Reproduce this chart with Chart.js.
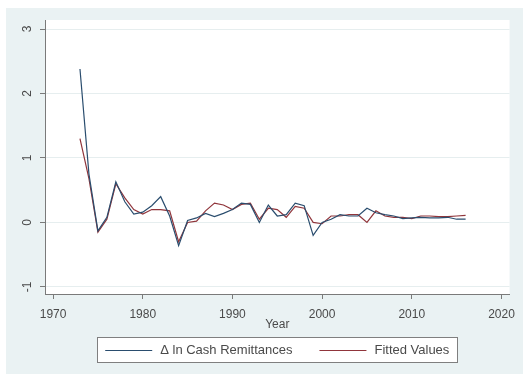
<!DOCTYPE html>
<html>
<head>
<meta charset="utf-8">
<script src="https://cdn.jsdelivr.net/npm/chart.js@4.4.1/dist/chart.umd.min.js"></script>
<style>
html,body{margin:0;padding:0;background:#ffffff;}
#wrap{width:523px;height:374px;}
</style>
</head>
<body>
<div id="wrap"><canvas id="c" width="523" height="374"></canvas></div>
<script>
const years = [1973,1974,1975,1976,1977,1978,1979,1980,1981,1982,1983,1984,1985,1986,1987,1988,1989,1990,1991,1992,1993,1994,1995,1996,1997,1998,1999,2000,2001,2002,2003,2004,2005,2006,2007,2008,2009,2010,2011,2012,2013,2014,2015,2016];
const dlnCashRemittances = [2.38,0.75,-0.13,0.08,0.63,0.32,0.13,0.16,0.26,0.40,0.10,-0.36,0.03,0.07,0.14,0.09,0.14,0.20,0.30,0.28,0.00,0.27,0.10,0.12,0.30,0.26,-0.20,0.00,0.05,0.12,0.10,0.10,0.22,0.15,0.12,0.10,0.06,0.07,0.08,0.07,0.07,0.08,0.05,0.05];
const fittedValues = [1.30,0.68,-0.15,0.05,0.60,0.38,0.20,0.13,0.20,0.20,0.18,-0.30,0.00,0.02,0.18,0.30,0.27,0.20,0.28,0.30,0.05,0.22,0.20,0.08,0.25,0.22,0.00,-0.02,0.10,0.10,0.12,0.12,0.00,0.18,0.10,0.08,0.08,0.06,0.10,0.10,0.09,0.09,0.10,0.11];
const seriesNames = ["\u0394 ln Cash Remittances","Fitted Values"];
const xTicks = [1970,1980,1990,2000,2010,2020];
const yTicks = [-1,0,1,2,3];
const xTitle = "Year";

const FONT = "'Liberation Sans', Arial, sans-serif";

const bgPlugin = {
  id: 'bg',
  beforeDraw(chart){
    const ctx = chart.ctx, a = chart.chartArea;
    ctx.save();
    ctx.fillStyle = '#ffffff';
    ctx.fillRect(0,0,chart.width,chart.height);
    ctx.fillStyle = '#eaf2f3';
    ctx.fillRect(6,8,chart.width-6,chart.height-8);
    ctx.fillStyle = '#ffffff';
    ctx.fillRect(a.left,a.top,a.right-a.left,a.bottom-a.top);
    ctx.restore();
  },
  afterDraw(chart){
    const ctx = chart.ctx, a = chart.chartArea;
    const ys = chart.scales.y;
    ctx.save();
    ctx.fillStyle = '#4a4a4a';
    ctx.font = '12px ' + FONT;
    ctx.textAlign = 'center';
    ctx.textBaseline = 'middle';
    yTicks.forEach(v => {
      const py = ys.getPixelForValue(v);
      ctx.save();
      ctx.translate(28, py);
      ctx.rotate(-Math.PI/2);
      ctx.fillText(String(v), 0, 0);
      ctx.restore();
    });
    ctx.font = '13px ' + FONT;
    const ds = chart.data.datasets;
    const lineW = 47, gapT = 8, gapItem = 27, pad = 8;
    const w1 = ctx.measureText(ds[0].label).width;
    const w2 = ctx.measureText(ds[1].label).width;
    const total = lineW + gapT + w1 + gapItem + lineW + gapT + w2;
    const cx = (a.left + a.right) / 2;
    let x = cx - total/2;
    const top = 337, h = 25, ly = top + h/2;
    ctx.fillStyle = '#ffffff';
    ctx.fillRect(x - pad, top, total + 2*pad, h);
    ctx.strokeStyle = '#7f7f7f';
    ctx.lineWidth = 1;
    ctx.strokeRect(Math.round(x - pad) + 0.5, top + 0.5, Math.round(total + 2*pad), h);
    ctx.textAlign = 'left';
    ctx.textBaseline = 'middle';
    ds.forEach((d, i) => {
      ctx.strokeStyle = d.borderColor;
      ctx.lineWidth = 1.2;
      ctx.beginPath();
      ctx.moveTo(x, Math.round(ly) + 0.5);
      ctx.lineTo(x + lineW, Math.round(ly) + 0.5);
      ctx.stroke();
      x += lineW + gapT;
      ctx.fillStyle = '#4a4a4a';
      ctx.fillText(d.label, x, ly + 1);
      x += (i === 0 ? w1 : w2) + gapItem;
    });
    ctx.restore();
  }
};

new Chart(document.getElementById('c'), {
  type: 'line',
  data: {
    datasets: [
      { label: seriesNames[0], data: years.map((yr,i)=>({x:yr, y:dlnCashRemittances[i]})), borderColor: '#2a4d6e', borderWidth: 1.2, pointRadius: 0, tension: 0, fill: false },
      { label: seriesNames[1], data: years.map((yr,i)=>({x:yr, y:fittedValues[i]})), borderColor: '#90353b', borderWidth: 1.2, pointRadius: 0, tension: 0, fill: false }
    ]
  },
  options: {
    responsive: false,
    animation: false,
    devicePixelRatio: 1,
    layout: { padding: { top: 20, right: 10, left: 0, bottom: 0 } },
    plugins: { legend: { display: false }, tooltip: { enabled: false } },
    scales: {
      x: {
        type: 'linear',
        min: 1969.1, max: 2020.9,
        afterBuildTicks: s => { s.ticks = xTicks.map(v => ({value: v})); },
        afterFit: s => { s.height = 80; },
        border: { color: '#7a7a7a', width: 1 },
        grid: { drawOnChartArea: false, tickColor: '#7a7a7a', tickLength: 5 },
        ticks: { color: '#4a4a4a', font: { size: 12, family: FONT }, padding: 8, maxRotation: 0, callback: v => String(v) },
        title: { display: true, text: xTitle, color: '#4a4a4a', font: { size: 12, family: FONT }, padding: { top: 0, bottom: 42 } }
      },
      y: {
        type: 'linear',
        min: -1.11, max: 3.14,
        afterBuildTicks: s => { s.ticks = yTicks.map(v => ({value: v})); },
        afterFit: s => { s.width = 45; },
        border: { color: '#7a7a7a', width: 1 },
        grid: { color: '#e6eeef', tickColor: '#7a7a7a', tickLength: 5 },
        ticks: { display: false }
      }
    }
  },
  plugins: [bgPlugin]
});
</script>
</body>
</html>
